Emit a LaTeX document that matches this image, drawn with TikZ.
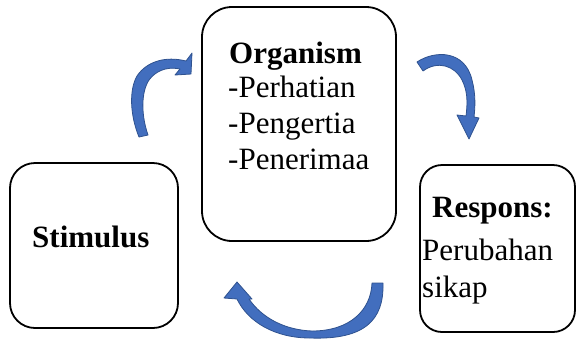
\documentclass[tikz,border=0pt]{standalone}
\usepackage{fontspec}
\setmainfont{Liberation Serif}
\definecolor{arrowfill}{RGB}{66,110,190}
\definecolor{arrowedge}{RGB}{47,82,143}
\begin{document}
\begin{tikzpicture}[x=1pt,y=-1pt,
  box/.style={draw=black, line width=1.8pt, inner sep=0pt},
  txt/.style={font=\fontsize{31}{36}\selectfont, inner sep=0pt, anchor=base west},
  blockarrow/.style={fill=arrowfill, draw=arrowedge, line width=0.8pt, line join=round}]
\useasboundingbox (0,0) rectangle (577,341);
% boxes
\node[box, rounded corners=30pt, minimum width=194pt, minimum height=234pt] (org) at (299,124) {};
\node[box, rounded corners=25pt, minimum width=168pt, minimum height=165pt] (stim) at (94,245.5) {};
\node[box, rounded corners=22pt, minimum width=155pt, minimum height=167pt] (resp) at (497.5,248.5) {};
% texts
\node[txt] (orgt) at (229,63) {\textbf{Organism}};
\node[txt] (o1) at (228,97) {-Perhatian};
\node[txt] (o2) at (228,133) {-Pengertia};
\node[txt] (o3) at (228,169) {-Penerimaa};
\node[txt] (stimt) at (32,247) {\textbf{Stimulus}};
\node[txt] (respt) at (432,217) {\textbf{Respons:}};
\node[txt] (r1) at (422,260) {Perubahan};
\node[txt] (r2) at (422,297) {sikap};
% arrow stimulus -> organism
\draw[blockarrow] (139,137) .. controls (130,115) and (129,90) .. (137,76)
  .. controls (147,61) and (166,56) .. (186,61)
  -- (192,53) -- (191,74) -- (175,75) -- (180,69)
  .. controls (165,66) and (155,72) .. (149,80)
  .. controls (141,92) and (141,115) .. (148,135) -- cycle;
% arrow organism -> respons
\draw[blockarrow] (417,62) .. controls (435,50) and (465,50) .. (472,80)
  .. controls (476,95) and (475,108) .. (474,117)
  -- (479,118) -- (469,139) -- (457,115) -- (466,116)
  .. controls (468,100) and (467,90) .. (462,80)
  .. controls (455,66) and (438,60) .. (423,71) -- cycle;
% arrow respons -> organism (bottom)
\draw[blockarrow] (383,283) .. controls (384,320) and (365,340) .. (310,338)
  .. controls (275,338) and (248,322) .. (237,299)
  -- (224,298) -- (237,282) -- (252,299) -- (249,299)
  .. controls (262,318) and (285,330) .. (312,331)
  .. controls (350,331) and (371,310) .. (372,283) -- cycle;
\end{tikzpicture}
\end{document}
